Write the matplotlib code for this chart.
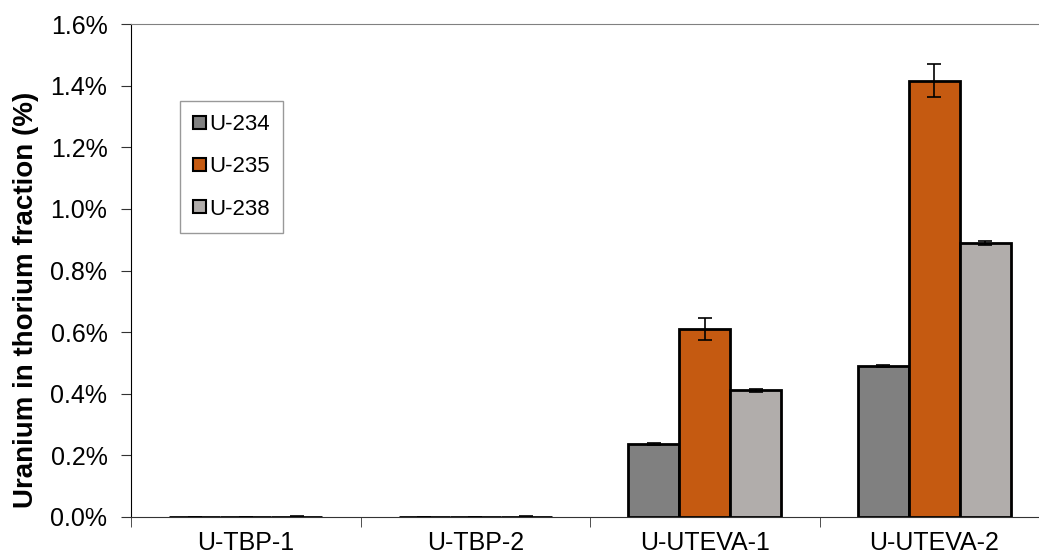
import numpy as np
import matplotlib
matplotlib.use("Agg")
import matplotlib.pyplot as plt
from matplotlib.ticker import FuncFormatter

plt.rcParams['font.family'] = ['Liberation Sans', 'DejaVu Sans']

samples = ['U-TBP-1', 'U-TBP-2', 'U-UTEVA-1', 'U-UTEVA-2']
isotopes = ['U-234', 'U-235', 'U-238']
# uranium fraction in %
u234 = [0.0005, 0.0005, 0.237, 0.490]
u235 = [0.0005, 0.0005, 0.610, 1.416]
u238 = [0.001, 0.001, 0.412, 0.890]
u234_err = [0.0008, 0.0008, 0.004, 0.004]
u235_err = [0.0008, 0.0008, 0.035, 0.054]
u238_err = [0.0008, 0.0008, 0.005, 0.007]

colors = ['#808080', '#C55A11', '#B1ADAB']

fig = plt.figure(figsize=(10.39, 5.59), dpi=100)
ax = fig.add_axes([131/1039, 1-517/559, 918/1039, 493/559])

x = np.arange(len(samples))
w = 0.222
series = [(u234, u234_err), (u235, u235_err), (u238, u238_err)]
for i, (vals, errs) in enumerate(series):
    ax.bar(x + (i-1)*w, vals, w, color=colors[i], edgecolor='black', linewidth=2,
           label=isotopes[i], yerr=errs, capsize=5,
           error_kw=dict(elinewidth=1.2, capthick=1.2, ecolor='black'), zorder=2)

ax.set_xlim(-0.5, 3.5)
ax.set_ylim(0, 1.6)
ax.set_yticks(np.arange(0, 1.61, 0.2))
ax.yaxis.set_major_formatter(FuncFormatter(lambda v, p: '%.1f%%' % v))
ax.set_xticks(x)
ax.set_xticklabels(samples, fontsize=18)
ax.set_xticks(np.arange(-0.5, 3.6, 1), minor=True)
ax.tick_params(axis='x', which='major', length=0, pad=10)
ax.tick_params(axis='x', which='minor', length=7, direction='out', color='#333333')
ax.tick_params(axis='y', labelsize=18, length=7, pad=10, direction='out', color='#333333')
ax.set_ylabel('Uranium in thorium fraction (%)', fontsize=20, fontweight='bold')
ax.yaxis.set_label_coords(-0.1, 0.44)

ax.spines['right'].set_visible(False)
ax.spines['top'].set_color('#808080')
ax.spines['left'].set_color('black')
ax.spines['bottom'].set_color('#333333')

leg = ax.legend(loc='upper left', bbox_to_anchor=(180/1039, 1-101/559),
                bbox_transform=fig.transFigure, borderaxespad=0, fontsize=16,
                frameon=True, fancybox=False, handlelength=0.55, handleheight=0.55,
                handletextpad=0.15, labelspacing=0.95, borderpad=0.6)
leg.get_frame().set_edgecolor('#808080')
leg.get_frame().set_linewidth(1)
for h in leg.legend_handles:
    h.set_linewidth(1.5)

fig.savefig('out.png', dpi=100)
